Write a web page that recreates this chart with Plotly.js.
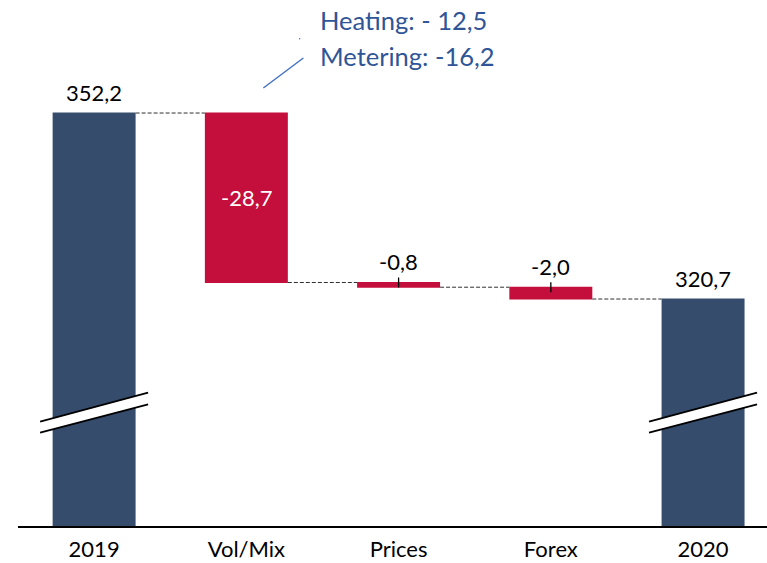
<!DOCTYPE html>
<html><head><meta charset="utf-8">
<script src="https://cdn.plot.ly/plotly-3.0.1.min.js"></script>
<style>html,body{margin:0;padding:0;background:#fff}</style>
</head><body><div id="chart" style="width:767px;height:563px"></div>
<script>
const categories = ["2019", "Vol/Mix", "Prices", "Forex", "2020"];
const measures = ["absolute", "relative", "relative", "relative", "total"];
const values = [352.2, -28.7, -0.8, -2.0, 320.7];
const noteLines = ["Heating: - 12,5", "Metering: -16,2"];

const NAVY = "#364C6C", RED = "#C40E3C", NOTE = "#2F5597";
const FONT = "Lato, 'Open Sans', sans-serif";
const fmt = v => v.toFixed(1).replace('.', ',');

let run = 0; const tops = [], bottoms = [];
values.forEach((v, i) => {
  if (measures[i] === "absolute") { run = v; tops.push(v); bottoms.push(0); }
  else if (measures[i] === "total") { tops.push(run); bottoms.push(0); }
  else { const s = run; run += v; tops.push(Math.max(s, run)); bottoms.push(Math.min(s, run)); }
});

const trace = {
  type: "waterfall", x: categories, y: values, measure: measures,
  width: 0.545, hoverinfo: "none",
  decreasing: {marker: {color: RED}},
  increasing: {marker: {color: RED}},
  totals: {marker: {color: NAVY}},
  connector: {mode: "between", line: {color: "#303030", width: 1, dash: "4px,2px"}}
};

const annotations = [];
values.forEach((v, i) => {
  const isRel = measures[i] === "relative";
  const big = isRel && (tops[i] - bottoms[i]) > 10;
  const val = measures[i] === "total" ? tops[i] : v;
  annotations.push({
    x: i, y: big ? (tops[i] + bottoms[i]) / 2 : tops[i], xref: "x", yref: "y",
    text: fmt(val), showarrow: false,
    yanchor: big ? "middle" : "bottom", yshift: big ? 0 : 5,
    font: {family: FONT, size: 22, color: big ? "#ffffff" : "#000000"}
  });
});
noteLines.forEach((t, k) => {
  annotations.push({
    x: 1, y: tops[0], xref: "x", yref: "y", xanchor: "left", yanchor: "middle",
    xshift: 72, yshift: k === 0 ? 93 : 57, text: t, showarrow: false,
    font: {family: FONT, size: 25.5, color: NOTE}
  });
});

const shapes = [];
values.forEach((v, i) => {
  if (measures[i] === "relative" && (tops[i] - bottoms[i]) < 10) {
    shapes.push({type: "line", xref: "x", yref: "y", ysizemode: "pixel", yanchor: tops[i],
      x0: i, x1: i, y0: -5, y1: 5, line: {color: "#000", width: 1.3}});
  }
});
values.forEach((v, i) => {
  if (measures[i] !== "relative") {
    const common = {xref: "x", yref: "paper", xsizemode: "pixel", ysizemode: "pixel", xanchor: i, yanchor: 0.215};
    shapes.push(Object.assign({type: "path", path: "M-54,-8.8 L54,20.2 L54,8.6 L-54,-19.8 Z",
      fillcolor: "#ffffff", line: {width: 0}}, common));
    shapes.push(Object.assign({type: "line", x0: -54, x1: 54, y0: -8.8, y1: 20.2,
      line: {color: "#000", width: 1.8}}, common));
    shapes.push(Object.assign({type: "line", x0: -54, x1: 54, y0: -19.8, y1: 8.6,
      line: {color: "#000", width: 1.8}}, common));
  }
});
shapes.push({type: "line", xref: "x", yref: "y", xsizemode: "pixel", ysizemode: "pixel",
  xanchor: 1, yanchor: tops[0], x0: 17, x1: 57, y0: 25, y1: 55, line: {color: "#4472C4", width: 1.5}});
shapes.push({type: "circle", xref: "x", yref: "y", xsizemode: "pixel", ysizemode: "pixel",
  xanchor: 1, yanchor: tops[0], x0: 52.5, x1: 54, y0: 73.5, y1: 75, fillcolor: "#4472C4", line: {width: 0}});

const layout = {
  width: 767, height: 563, margin: {l: 18, r: 0, t: 0, b: 37},
  paper_bgcolor: "#fff", plot_bgcolor: "#fff", showlegend: false,
  separators: ", ",
  xaxis: {type: "category", range: [-0.5, 4.42], showline: true, linecolor: "#000", linewidth: 2,
    ticks: "outside", ticklen: 3, tickcolor: "rgba(0,0,0,0)", showgrid: false, zeroline: false,
    tickfont: {family: FONT, size: 22, color: "#000"}, fixedrange: true},
  yaxis: {range: [282.26, 371.34], visible: false, showgrid: false, zeroline: false, fixedrange: true},
  annotations: annotations, shapes: shapes
};
Plotly.newPlot("chart", [trace], layout, {displayModeBar: false, staticPlot: true});
</script></body></html>
